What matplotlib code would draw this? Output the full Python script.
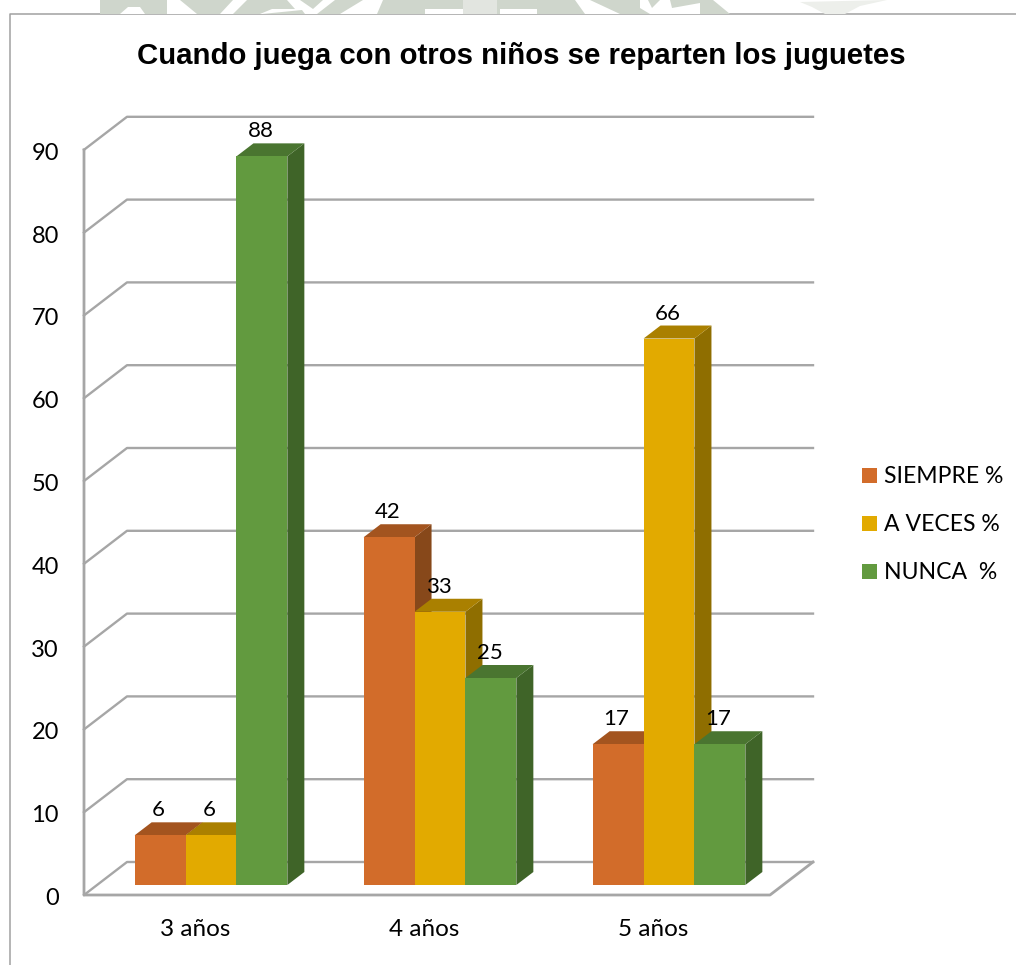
from __future__ import annotations

import matplotlib

matplotlib.use("Agg")
import matplotlib.pyplot as plt
from matplotlib.patches import Polygon, Rectangle
from matplotlib.transforms import Affine2D

categories = ["3 años", "4 años", "5 años"]
series_names = ["SIEMPRE %", "A VECES %", "NUNCA  %"]
siempre = [6, 42, 17]
a_veces = [6, 33, 66]
nunca = [88, 25, 17]
y_ticks = [0, 10, 20, 30, 40, 50, 60, 70, 80, 90]
title = "Cuando juega con otros niños se reparten los juguetes"

W, H = 1016, 965
PX_X = 229.0  # pixels per category
PX_Y = 8.28  # pixels per value unit
X0, Y0 = 211.0, 885.0  # pixel of category 0 / value 0

FRONT = ["#D26C2A", "#E2AA00", "#629A3F"]
TOP = ["#A3541F", "#AA8000", "#4A7530"]
SIDE = ["#87481A", "#8F6E00", "#3F6428"]
GRID = "#A6A6A6"
BAR_W = 50.9 / PX_X
DX, DY = 17 / PX_X, 13 / PX_Y

plt.rcParams["font.family"] = ["Lato", "DejaVu Sans"]

fig = plt.figure(figsize=(W / 100, H / 100), dpi=100)
ax = fig.add_axes([0, 0, 1, 1])
ax.set_xlim(-X0 / PX_X, (W - X0) / PX_X)
ax.set_ylim((Y0 - H) / PX_Y, Y0 / PX_Y)
ax.axis("off")


def px(x, y):
    return (x - X0) / PX_X, (Y0 - y) / PX_Y


# watermark scraps above the frame: a pale band with white cut-outs, in pixels
px_tr = Affine2D().scale(1, -1).translate(0, H)
fig.add_artist(Polygon([(100, 0), (713, 0), (730, 14), (100, 14)], closed=True, fc="#CFD6CC", ec="none", transform=px_tr))
fig.add_artist(Rectangle((463, 0), 34, 14, fc="#E2E5E0", ec="none", transform=px_tr))
fig.add_artist(Polygon([(800, 2), (887, 0), (860, 6), (845, 14), (825, 14), (812, 7)], closed=True, fc="#EDEFEB", ec="none", transform=px_tr))
cutouts = [
    [(120, 14), (128, 7), (140, 7), (145, 14)],
    [(167, 0), (180, 0), (197, 14), (167, 14)],
    [(233, 0), (247, 0), (233, 14), (220, 14)],
    [(287, 0), (300, 0), (313, 9), (323, 0), (335, 0), (317, 14), (305, 14), (302, 10), (262, 14), (260, 14), (272, 9), (295, 9)],
    [(363, 0), (383, 0), (377, 14), (340, 14)],
    [(425, 9), (463, 9), (463, 14), (425, 14)],
    [(500, 9), (537, 9), (537, 14), (500, 14)],
    [(575, 0), (590, 0), (620, 14), (585, 14)],
    [(640, 0), (648, 0), (652, 8), (660, 0), (670, 0), (672, 8), (700, 3), (700, 14), (670, 14), (650, 14), (640, 8)],
]
for pts in cutouts:
    fig.add_artist(Polygon(pts, closed=True, fc="white", ec="none", transform=px_tr))

# outer frame
ax.plot(*zip(px(9.5, 965), px(9.5, 14), px(1016, 14)), color="#A0A0A0", lw=1.1, zorder=1)

# walls and floor
for v in y_ticks:
    lift = v * PX_Y
    ax.plot(*zip(px(84, 895 - lift), px(127, 862 - lift), px(813, 862 - lift)), color=GRID, lw=1.7, zorder=1)
ax.plot(*zip(px(84, 895 - 90 * PX_Y), px(84, 895), px(770, 895), px(813, 862)), color=GRID, lw=2.0, zorder=1)

# bars, left to right so later fronts cover earlier sides
order = 2
for i, cat in enumerate(categories):
    for j, values in enumerate([siempre, a_veces, nunca]):
        v = values[i]
        left = i + (j - 1.5) * BAR_W
        right = left + BAR_W
        ax.add_patch(Polygon([(right, 0), (right + DX, DY), (right + DX, v + DY), (right, v)], fc=SIDE[j], ec="none", zorder=order))
        ax.add_patch(Polygon([(left, v), (left + DX, v + DY), (right + DX, v + DY), (right, v)], fc=TOP[j], ec="none", zorder=order))
        ax.bar(left, v, BAR_W, align="edge", color=FRONT[j], linewidth=0, zorder=order + 1)
        order += 2

# value labels sit on top of everything
for i in range(len(categories)):
    for j, values in enumerate([siempre, a_veces, nunca]):
        v = values[i]
        x = i + (j - 1.5) * BAR_W + BAR_W / 2 - 1.5 / PX_X
        ax.text(x, v + 1.8, str(v), ha="center", va="bottom", fontsize=16, color="#000000", zorder=100)

for v in y_ticks:
    x, y = px(59, 898.5 - v * PX_Y)
    ax.text(x, y, str(v), ha="right", va="center", fontsize=17, color="#000000")

for i, cat in enumerate(categories):
    y = px(0, 930)[1]
    ax.text(i - 16 / PX_X, y, cat, ha="center", va="center", fontsize=17.5, color="#000000")

# legend, built by hand like the chart's own
for name, color, ly in zip(series_names, FRONT, [475, 523, 571]):
    ax.add_patch(Polygon([px(862, ly - 7), px(877, ly - 7), px(877, ly + 8), px(862, ly + 8)], fc=color, ec="none"))
    x, y = px(884, ly + 1.5)
    ax.text(x, y, name, ha="left", va="center", fontsize=16.6, color="#000000")

x, y = px(521, 56)
ax.text(x, y, title, ha="center", va="center", fontsize=21.15, fontweight="bold", family=["Liberation Sans"], color="#000000")

fig.savefig("out.png", dpi=100)
